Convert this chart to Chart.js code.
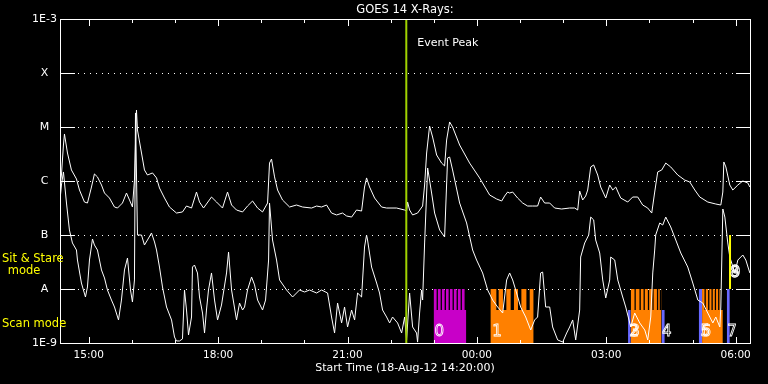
<!DOCTYPE html>
<html>
<head>
<meta charset="utf-8">
<title>GOES 14 X-Rays</title>
<script src="https://cdn.jsdelivr.net/npm/chart.js@4.4.0/dist/chart.umd.min.js"></script>
<style>
  body { margin: 0; background: #000; }
  canvas { display: block; }
</style>
</head>
<body>
<canvas id="goesChart" width="768" height="384"></canvas>
<script>
// GOES 14 X-ray flux, 18-Aug-12 14:20 to 19-Aug-12 06:20
// times are minutes after the 14:20:00 start

// long channel (1-8 A), upper curve
const longMinutes = [0, 2.0, 4.8, 6.2, 10.4, 15.9, 22.9, 27.1, 34.0, 38.2, 43.8, 47.9, 52.1, 57.7, 61.9, 68.8,
  75.8, 80.0, 86.9, 92.5, 96.7, 100.8, 103.6, 106.4, 107.8, 113.4, 117.5, 121.7, 128.7, 134.3, 138.4, 145.4,
  152.3, 162.1, 170.4, 176.0, 183.0, 189.9, 194.1, 199.7, 210.8, 217.8, 226.1, 233.1, 238.7, 245.6, 254.0,
  260.9, 267.9, 274.9, 281.8, 288.8, 291.5, 294.3, 298.5, 302.7, 309.6, 319.4, 329.1, 337.5, 350.0, 357.0,
  363.9, 370.9, 377.8, 384.8, 393.1, 398.7, 405.7, 412.6, 419.6, 423.7, 426.5, 430.7, 437.7, 447.4, 454.4,
  468.3, 479.5, 482.2, 483.6, 486.4, 490.6, 497.5, 504.5, 507.3, 510.1, 514.2, 518.4, 524.0, 530.9, 535.1,
  537.9, 542.1, 546.2, 556.0, 569.9, 583.8, 597.8, 607.5, 614.5, 618.6, 622.8, 625.6, 629.8, 636.7, 643.7,
  650.6, 657.6, 664.5, 668.7, 674.3, 681.3, 688.2, 697.9, 709.1, 716.1, 720.3, 723.0, 727.2, 731.4, 734.2,
  738.4, 742.5, 748.1, 752.3, 759.3, 764.8, 769.0, 773.2, 780.1, 789.9, 796.8, 803.8, 810.7, 817.7, 823.3,
  827.4, 831.6, 837.2, 842.8, 849.7, 859.5, 869.2, 876.2, 883.2, 890.1, 901.3, 912.4, 919.4, 922.2, 923.6,
  926.4, 931.9, 936.1, 943.1, 950.0, 957.0, 959.8];
const longFlux = [8.43e-7, 1.29e-6, 4.64e-6, 7.42e-6, 3.30e-6, 1.60e-6, 1.09e-6, 6.81e-7, 4.08e-7, 3.91e-7,
  7.74e-7, 1.35e-6, 1.19e-6, 8.43e-7, 5.99e-7, 4.84e-7, 3.30e-7, 3.16e-7, 3.91e-7, 5.99e-7, 4.45e-7, 3.30e-7,
  1.04e-6, 2.06e-5, 8.80e-6, 3.30e-6, 1.60e-6, 1.29e-6, 1.41e-6, 1.14e-6, 7.42e-7, 4.84e-7, 3.30e-7, 2.55e-7,
  2.67e-7, 3.44e-7, 3.16e-7, 6.25e-7, 4.08e-7, 3.16e-7, 5.05e-7, 4.08e-7, 3.16e-7, 6.25e-7, 3.59e-7, 2.90e-7,
  2.67e-7, 3.44e-7, 4.26e-7, 3.16e-7, 2.67e-7, 3.91e-7, 2.15e-6, 2.55e-6, 1.19e-6, 6.81e-7, 4.45e-7, 3.30e-7,
  3.59e-7, 3.30e-7, 3.16e-7, 3.44e-7, 3.30e-7, 3.59e-7, 2.55e-7, 2.35e-7, 2.55e-7, 2.25e-7, 2.15e-7, 2.90e-7,
  2.78e-7, 7.74e-7, 1.14e-6, 7.74e-7, 4.84e-7, 3.30e-7, 3.16e-7, 3.16e-7, 2.90e-7, 2.78e-7, 4.08e-7, 2.90e-7,
  2.35e-7, 2.55e-7, 3.44e-7, 8.43e-7, 3.30e-6, 1.04e-5, 6.52e-6, 3.03e-6, 2.15e-6, 1.90e-6, 5.74e-6, 1.24e-5,
  1.00e-5, 4.64e-6, 2.15e-6, 1.14e-6, 5.50e-7, 4.64e-7, 4.26e-7, 5.27e-7, 6.25e-7, 5.99e-7, 6.25e-7, 4.84e-7,
  3.91e-7, 3.44e-7, 3.44e-7, 3.44e-7, 5.05e-7, 3.91e-7, 3.91e-7, 3.16e-7, 3.03e-7, 3.16e-7, 3.16e-7, 2.90e-7,
  6.52e-7, 4.45e-7, 5.27e-7, 6.81e-7, 1.82e-6, 1.98e-6, 1.29e-6, 7.74e-7, 4.84e-7, 8.43e-7, 6.81e-7, 7.74e-7,
  4.84e-7, 4.08e-7, 5.05e-7, 5.05e-7, 3.59e-7, 3.16e-7, 2.55e-7, 6.25e-7, 1.47e-6, 1.60e-6, 2.15e-6, 1.82e-6,
  1.29e-6, 1.04e-6, 9.58e-7, 6.81e-7, 5.05e-7, 4.08e-7, 3.75e-7, 3.59e-7, 6.25e-7, 2.25e-6, 1.82e-6, 8.43e-7,
  6.81e-7, 8.43e-7, 1.00e-6, 9.18e-7, 7.74e-7];

// short channel (0.5-4 A), lower curve
const shortMinutes = [0, 2.0, 4.8, 9.0, 13.1, 17.3, 22.9, 24.3, 29.8, 32.6, 35.4, 38.2, 41.0, 45.2, 47.9, 52.1,
  57.7, 61.9, 66.0, 71.6, 75.8, 81.4, 85.5, 89.7, 93.9, 98.1, 100.8, 103.6, 105.0, 107.8, 113.4, 117.5, 121.7,
  127.3, 131.5, 134.3, 138.4, 142.6, 148.2, 155.2, 159.3, 162.1, 166.3, 170.4, 173.2, 176.0, 178.8, 183.0,
  184.3, 187.1, 191.3, 194.1, 198.3, 201.1, 203.8, 206.6, 210.8, 215.0, 219.2, 224.7, 231.7, 234.5, 238.7,
  245.6, 249.8, 254.0, 256.8, 260.9, 266.5, 270.7, 274.9, 281.8, 286.0, 290.2, 291.5, 295.7, 301.3, 305.5,
  315.2, 323.6, 333.3, 340.3, 347.2, 357.0, 363.9, 372.3, 377.8, 382.0, 386.2, 391.8, 395.9, 400.1, 405.7,
  409.9, 414.0, 419.6, 423.7, 426.5, 427.9, 433.5, 440.5, 444.6, 448.8, 454.4, 458.6, 462.7, 469.7, 475.3,
  479.5, 482.2, 486.4, 490.6, 496.1, 497.5, 500.3, 503.1, 504.5, 507.3, 511.5, 517.0, 521.2, 528.2, 535.1,
  539.3, 542.1, 546.2, 556.0, 565.7, 574.1, 579.6, 588.0, 595.0, 601.9, 608.9, 615.9, 621.4, 625.6, 629.8,
  634.0, 640.9, 647.9, 654.9, 660.4, 664.5, 668.7, 671.5, 675.7, 681.3, 685.4, 692.4, 699.4, 704.9, 709.1,
  713.3, 717.5, 723.0, 724.4, 730.0, 735.6, 738.4, 742.5, 745.3, 750.9, 755.1, 759.3, 764.8, 766.2, 771.8,
  776.0, 782.9, 787.1, 794.1, 799.6, 806.6, 813.6, 817.7, 821.9, 824.7, 827.4, 828.8, 834.4, 838.6, 842.8,
  849.7, 856.7, 863.7, 873.4, 880.4, 887.4, 894.3, 901.3, 908.3, 912.4, 918.0, 919.4, 922.2, 925.0, 929.1,
  931.9, 938.9, 943.1, 950.0, 954.2, 959.8];
const shortFlux = [4.45e-7, 8.43e-7, 1.47e-6, 3.91e-7, 1.24e-7, 7.11e-8, 5.27e-8, 3.44e-8, 1.29e-8, 9.58e-9,
  7.11e-9, 1.09e-8, 3.44e-8, 8.43e-8, 6.52e-8, 5.27e-8, 2.25e-8, 1.60e-8, 9.58e-9, 6.25e-9, 4.64e-9, 2.67e-9,
  6.25e-9, 2.25e-8, 3.75e-8, 9.58e-9, 5.74e-9, 1.47e-8, 1.82e-5, 1.00e-7, 1.00e-7, 6.52e-8, 8.08e-8, 1.09e-7,
  7.42e-8, 5.27e-8, 2.55e-8, 1.09e-8, 4.64e-9, 2.67e-9, 1.29e-9, 1.09e-9, 1.09e-9, 1.19e-9, 9.58e-9, 4.08e-9,
  1.41e-9, 3.03e-9, 2.55e-8, 2.78e-8, 1.98e-8, 7.11e-9, 3.59e-9, 1.53e-9, 4.08e-9, 9.58e-9, 1.98e-8, 6.25e-9,
  2.67e-9, 5.05e-9, 1.98e-8, 4.84e-8, 9.58e-9, 2.67e-9, 5.50e-9, 4.08e-9, 4.64e-9, 9.58e-9, 1.67e-8, 1.19e-8,
  6.25e-9, 4.08e-9, 6.25e-9, 3.44e-8, 3.91e-7, 8.08e-8, 3.44e-8, 1.47e-8, 9.58e-9, 7.11e-9, 9.58e-9, 8.80e-9,
  9.58e-9, 8.43e-9, 9.58e-9, 8.43e-9, 3.03e-9, 1.53e-9, 5.50e-9, 2.35e-9, 4.64e-9, 1.98e-9, 4.08e-9, 2.67e-9,
  8.43e-9, 7.11e-9, 5.99e-8, 1.00e-7, 8.08e-8, 2.55e-8, 1.29e-8, 8.43e-9, 4.08e-9, 3.03e-9, 2.35e-9, 3.03e-9,
  2.35e-9, 1.53e-9, 3.03e-9, 1.14e-9, 8.43e-9, 1.98e-9, 1.53e-9, 1.04e-9, 3.59e-9, 9.58e-9, 6.25e-9, 7.11e-8,
  1.74e-6, 5.99e-7, 2.55e-7, 1.24e-7, 9.18e-8, 2.67e-6, 2.78e-6, 1.60e-6, 3.91e-7, 1.67e-7, 5.27e-8, 3.44e-8,
  1.98e-8, 9.58e-9, 6.25e-9, 4.64e-9, 3.59e-9, 1.47e-8, 1.98e-8, 1.47e-8, 9.58e-9, 4.64e-9, 3.03e-9, 1.74e-9,
  2.67e-9, 3.03e-9, 1.98e-8, 2.06e-8, 4.64e-9, 4.64e-9, 1.98e-9, 1.14e-9, 1.04e-9, 1.53e-9, 1.98e-9, 2.67e-9,
  1.14e-9, 4.08e-9, 3.91e-8, 7.11e-8, 1.00e-7, 2.15e-7, 1.90e-7, 8.08e-8, 4.64e-8, 1.47e-8, 6.81e-9, 1.47e-8,
  3.91e-8, 3.44e-8, 1.47e-8, 7.11e-9, 4.64e-9, 1.98e-9, 3.59e-9, 2.35e-9, 1.74e-9, 1.14e-9, 3.03e-9, 1.98e-8,
  5.27e-8, 1.00e-7, 1.67e-7, 1.53e-7, 2.15e-7, 1.41e-7, 8.08e-8, 4.64e-8, 2.55e-8, 1.29e-8, 6.25e-9, 5.50e-9,
  3.59e-9, 2.35e-9, 3.03e-9, 1.98e-9, 4.64e-9, 3.03e-7, 2.15e-7, 7.11e-8, 3.91e-8, 1.98e-8, 3.44e-8, 4.26e-8,
  3.44e-8, 1.98e-8];

// observing mode strips (edges in minutes, level held until the next edge)
const TALL = 1e-8, MID = 4.1e-9;
const stripMagentaMinutes = [519.8, 524.0, 525.8, 529.6, 531.4, 535.1, 537.0, 540.7, 542.5, 546.2, 548.0, 551.8, 553.6, 557.4, 559.2, 562.9, 565.3];
const stripMagentaLevels  = [TALL, MID, TALL, MID, TALL, MID, TALL, MID, TALL, MID, TALL, MID, TALL, MID, TALL, MID, MID];
const stripOrange1Minutes = [598.8, 607.1, 610.3, 616.3, 621.0, 627.0, 631.6, 637.2, 641.9, 648.9, 653.5, 659.0];
const stripOrange1Levels  = [TALL, MID, TALL, MID, TALL, MID, TALL, MID, TALL, MID, TALL, TALL];
const stripOrange3Minutes = [794.1, 799.3, 801.1, 806.2, 808.1, 811.9, 813.7, 817.9, 819.7, 824.3, 825.9, 830.5, 832.3, 834.4, 836.2, 836.8];
const stripOrange3Levels  = [TALL, MID, TALL, MID, TALL, MID, TALL, MID, TALL, MID, TALL, MID, TALL, MID, TALL, TALL];
const stripOrange5Minutes = [893.3, 896.7, 898.5, 901.7, 903.5, 906.4, 908.2, 911.0, 912.8, 915.6, 917.4, 918.4, 922.2];
const stripOrange5Levels  = [TALL, MID, TALL, MID, TALL, MID, TALL, MID, TALL, MID, TALL, MID, MID];
const stripBlueMinutes = [[790.3, 794.1], [836.8, 841.4], [888.7, 893.3], [927.7, 931.9]];
const stripBlueLevels  = [MID, MID, TALL, TALL];

// sit & stare marker (yellow) and event peak
const stareMinute = 932.2;
const stareRange = [1e-7, 1e-8];
const eventPeakMinute = 481.8;

// mode numbers
const modeLabelTexts   = ['0', '1', '2', '3', '4', '5', '6', '7', '8', '9'];
const modeLabelMinutes = [521.2, 601.3, 792.1, 793.5, 837.5, 891.1, 892.5, 928.4, 932.2, 933.6];
const modeLabelLevels  = [1.56e-9, 1.56e-9, 1.56e-9, 1.56e-9, 1.56e-9, 1.56e-9, 1.56e-9, 1.56e-9, 1.98e-8, 1.98e-8];

// axes
const xTickMinutes = [40, 220, 400, 580, 760, 940];
const xTickLabels = ['15:00', '18:00', '21:00', '00:00', '03:00', '06:00'];
const yTickValues = [1e-9, 1e-8, 1e-7, 1e-6, 1e-5, 1e-4, 1e-3];
const yTickLabels = ['1E-9', 'A', 'B', 'C', 'M', 'X', '1E-3'];

const MAGENTA = 'rgb(200,0,200)';
const ORANGE = 'rgb(255,128,0)';
const BLUE = 'rgb(104,104,255)';
const YELLOW = 'rgb(255,255,0)';
const PEAK_GREEN = 'rgb(160,210,0)';
const FONT = '"DejaVu Sans", sans-serif';

function pairs(xs, ys) {
  return xs.map((x, i) => ({ x: x, y: ys[i] }));
}

function stripDataset(xs, ys, color) {
  return {
    data: pairs(xs, ys),
    stepped: 'before',
    fill: 'start',
    backgroundColor: color,
    borderColor: 'rgba(0,0,0,0)',
    borderWidth: 1,
    pointRadius: 0,
    order: 5
  };
}

const datasets = [
  {
    data: [{ x: eventPeakMinute, y: 1e-9 }, { x: eventPeakMinute, y: 1e-3 }],
    borderColor: PEAK_GREEN, borderWidth: 2, pointRadius: 0, order: 0
  },
  {
    data: [{ x: stareMinute, y: stareRange[0] }, { x: stareMinute, y: stareRange[1] }],
    borderColor: YELLOW, borderWidth: 2, pointRadius: 0, order: 1
  },
  { data: pairs(longMinutes, longFlux), borderColor: '#fff', borderWidth: 1, pointRadius: 0, order: 2 },
  { data: pairs(shortMinutes, shortFlux), borderColor: '#fff', borderWidth: 1, pointRadius: 0, order: 2 },
  stripDataset(stripMagentaMinutes, stripMagentaLevels, MAGENTA),
  stripDataset(stripOrange1Minutes, stripOrange1Levels, ORANGE),
  stripDataset(stripOrange3Minutes, stripOrange3Levels, ORANGE),
  stripDataset(stripOrange5Minutes, stripOrange5Levels, ORANGE)
];
stripBlueMinutes.forEach((span, i) => {
  datasets.push(stripDataset(span, [stripBlueLevels[i], stripBlueLevels[i]], BLUE));
});

// frame, dotted grid, inward ticks and the extra text
const goesFrame = {
  id: 'goesFrame',
  beforeDatasetsDraw(chart) {
    const { ctx, chartArea: a, scales: { y } } = chart;
    ctx.save();
    ctx.strokeStyle = '#fff';
    ctx.lineWidth = 1;
    ctx.setLineDash([1, 5]);
    yTickValues.slice(1, -1).forEach(v => {
      const py = Math.round(y.getPixelForValue(v)) + 0.5;
      ctx.beginPath();
      ctx.moveTo(a.left, py);
      ctx.lineTo(a.right, py);
      ctx.stroke();
    });
    ctx.restore();
  },
  afterDatasetsDraw(chart) {
    const { ctx, chartArea: a, scales: { x, y } } = chart;
    ctx.save();
    ctx.strokeStyle = '#fff';
    ctx.lineWidth = 1;
    ctx.strokeRect(Math.round(a.left) + 0.5, Math.round(a.top) + 0.5,
      Math.round(a.right - a.left), Math.round(a.bottom - a.top));

    ctx.beginPath();
    yTickValues.forEach(v => {
      const py = Math.round(y.getPixelForValue(v)) + 0.5;
      ctx.moveTo(a.left, py); ctx.lineTo(a.left + 15, py);
      ctx.moveTo(a.right - 14, py); ctx.lineTo(a.right, py);
    });
    for (let m = 40; m <= x.max; m += 60) {
      const px = Math.round(x.getPixelForValue(m)) + 0.5;
      const len = xTickMinutes.includes(m) ? 7 : 4;
      ctx.moveTo(px, a.top); ctx.lineTo(px, a.top + len);
      ctx.moveTo(px, a.bottom); ctx.lineTo(px, a.bottom - len + 1);
    }
    ctx.stroke();

    // event peak label
    ctx.fillStyle = '#fff';
    ctx.font = '11px ' + FONT;
    ctx.textBaseline = 'middle';
    ctx.textAlign = 'left';
    ctx.fillText('Event Peak', x.getPixelForValue(eventPeakMinute) + 11, a.top + 24);

    // mode numbers, outlined like the vector font of the original
    ctx.font = '15px ' + FONT;
    ctx.lineWidth = 0.8;
    modeLabelTexts.forEach((t, i) => {
      ctx.strokeText(t, x.getPixelForValue(modeLabelMinutes[i]), y.getPixelForValue(modeLabelLevels[i]));
    });

    // mode legend on the left
    const aLine = y.getPixelForValue(1e-8);
    ctx.fillStyle = YELLOW;
    ctx.font = '11.5px ' + FONT;
    ctx.fillText('Sit & Stare', 2, aLine - 30);
    ctx.textAlign = 'center';
    ctx.fillText('mode', 24, aLine - 18);
    ctx.textAlign = 'left';
    ctx.fillText('Scan mode', 2, aLine + 35);
    ctx.restore();
  }
};

new Chart(document.getElementById('goesChart'), {
  type: 'line',
  data: { datasets: datasets },
  plugins: [goesFrame],
  options: {
    responsive: false,
    animation: false,
    devicePixelRatio: 1,
    layout: { padding: { left: 0, right: 18, top: 0, bottom: 0 } },
    plugins: {
      legend: { display: false },
      tooltip: { enabled: false },
      title: {
        display: true,
        text: 'GOES 14 X-Rays:',
        color: '#fff',
        fullSize: false,
        font: { family: FONT, size: 11.5, weight: 'normal' },
        padding: { top: 3, bottom: 2.2 }
      }
    },
    scales: {
      x: {
        type: 'linear',
        min: 0,
        max: 960,
        afterBuildTicks: s => { s.ticks = xTickMinutes.map(v => ({ value: v })); },
        afterFit: s => { s.height = 41; },
        grid: { display: false, drawTicks: false },
        border: { display: false },
        ticks: {
          autoSkip: false,
          maxRotation: 0,
          color: '#fff',
          padding: 5.5,
          font: { family: FONT, size: 10.5 },
          callback: (v, i) => xTickLabels[i]
        },
        title: {
          display: true,
          text: 'Start Time (18-Aug-12 14:20:00)',
          color: '#fff',
          font: { family: FONT, size: 11 },
          padding: { top: 0, bottom: 9.4 }
        }
      },
      y: {
        type: 'logarithmic',
        min: 1e-9,
        max: 1e-3,
        afterBuildTicks: s => { s.ticks = yTickValues.map(v => ({ value: v })); },
        afterFit: s => { s.width = 60; },
        grid: { display: false, drawTicks: false },
        border: { display: false },
        ticks: {
          autoSkip: false,
          color: '#fff',
          crossAlign: 'center',
          padding: 3,
          font: { family: FONT, size: 11 },
          callback: (v, i) => yTickLabels[i]
        }
      }
    }
  }
});
</script>
</body>
</html>
